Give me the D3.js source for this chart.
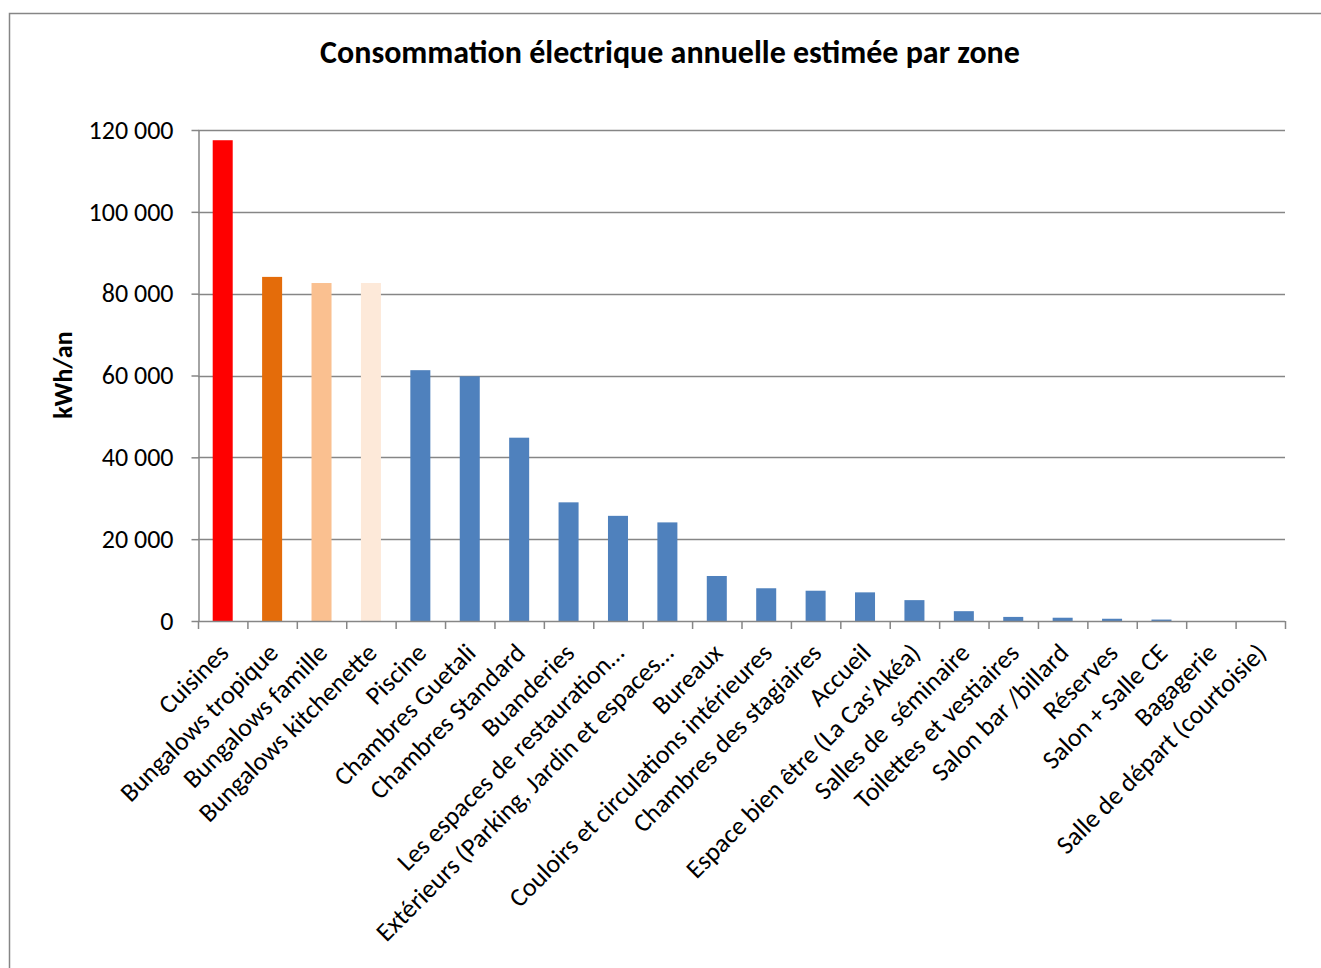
<!DOCTYPE html>
<html lang="fr">
<head>
<meta charset="utf-8">
<title>Consommation électrique annuelle estimée par zone</title>
<script src="https://cdn.jsdelivr.net/npm/d3@7"></script>
<style>
  html, body { margin: 0; padding: 0; background: #ffffff; }
  svg { display: block; }
  text { font-family: Carlito, Calibri, "Open Sans", sans-serif; fill: #000; white-space: pre; }
</style>
</head>
<body>
<div id="chart"></div>
<script>
// Zones, in decreasing order of consumption
const zones = [
  "Cuisines",
  "Bungalows tropique",
  "Bungalows famille",
  "Bungalows kitchenette",
  "Piscine",
  "Chambres Guetali",
  "Chambres Standard",
  "Buanderies",
  "Les espaces de restauration…",
  "Extérieurs (Parking, Jardin et espaces…",
  "Bureaux",
  "Couloirs et circulations intérieures",
  "Chambres des stagiaires",
  "Accueil",
  "Espace bien être (La Cas'Akéa)",
  "Salles de  séminaire",
  "Toilettes et vestiaires",
  "Salon bar /billard",
  "Réserves",
  "Salon + Salle CE",
  "Bagagerie",
  "Salle de départ (courtoisie)"
];

// Annual consumption (kWh/an)
const consommation = [
  117500, 84100, 82600, 82600, 61300, 59800, 44800, 29000, 25700, 24100,
  11000, 8000, 7400, 7000, 5100, 2400, 1000, 800, 550, 350, 0, 0
];

// Bar fill per zone
const couleurs = [
  "#ff0000", "#e46c0a", "#fac090", "#fde9d9",
  "#4f81bd", "#4f81bd", "#4f81bd", "#4f81bd", "#4f81bd", "#4f81bd",
  "#4f81bd", "#4f81bd", "#4f81bd", "#4f81bd", "#4f81bd", "#4f81bd",
  "#4f81bd", "#4f81bd", "#4f81bd", "#4f81bd", "#4f81bd", "#4f81bd"
];

const yTicks = [0, 20000, 40000, 60000, 80000, 100000, 120000];

const W = 1321, H = 968;
const plot = { left: 198, right: 1285, top: 130, bottom: 621 };
const gray = "#868686";
const labelSize = 26;

const svg = d3.select("#chart").append("svg")
  .attr("width", W).attr("height", H);

// Chart frame
svg.append("rect")
  .attr("x", 9.5).attr("y", 13.5)
  .attr("width", W + 20).attr("height", H + 20)
  .attr("fill", "#fff").attr("stroke", gray).attr("stroke-width", 1.5);

const x = d3.scaleBand()
  .domain(zones)
  .range([plot.left, plot.right])
  .paddingInner(0.595)
  .paddingOuter(0.2975);

const y = d3.scaleLinear()
  .domain([0, 120000])
  .range([plot.bottom, plot.top]);

const fr = d3.formatLocale({ decimal: ",", thousands: " ", grouping: [3], currency: ["", " €"] });
const fmt = fr.format(",d");

// Gridlines
svg.append("g")
  .selectAll("line")
  .data(yTicks.filter(d => d > 0))
  .join("line")
  .attr("x1", plot.left).attr("x2", plot.right)
  .attr("y1", d => Math.round(y(d)) + 0.5).attr("y2", d => Math.round(y(d)) + 0.5)
  .attr("stroke", gray).attr("stroke-width", 1.5);

// Bars
svg.append("g")
  .selectAll("rect")
  .data(zones.map((z, i) => ({ zone: z, value: consommation[i], color: couleurs[i] })))
  .join("rect")
  .attr("x", d => x(d.zone))
  .attr("width", x.bandwidth())
  .attr("y", d => y(d.value))
  .attr("height", d => y(0) - y(d.value))
  .attr("fill", d => d.color);

// Y axis
const yAxis = svg.append("g")
  .attr("transform", `translate(${plot.left + 0.5},0)`)
  .call(d3.axisLeft(y).tickValues(yTicks).tickFormat(fmt).tickSize(7).tickSizeOuter(0).tickPadding(18));
yAxis.select(".domain").attr("stroke", gray).attr("stroke-width", 1.5);
yAxis.selectAll(".tick line").attr("stroke", gray).attr("stroke-width", 1.5);
yAxis.selectAll(".tick text")
  .attr("font-size", labelSize)
  .style("font-family", 'Carlito, Calibri, "Open Sans", sans-serif')
  .attr("fill", "#000");

// X axis: tick marks on category boundaries
const xg = svg.append("g");
xg.append("line")
  .attr("x1", plot.left).attr("x2", plot.right)
  .attr("y1", plot.bottom + 0.5).attr("y2", plot.bottom + 0.5)
  .attr("stroke", gray).attr("stroke-width", 1.5);
const step = x.step();
xg.selectAll("line.b")
  .data(d3.range(zones.length + 1))
  .join("line")
  .attr("class", "b")
  .attr("x1", i => plot.left + i * step + 0.5)
  .attr("x2", i => plot.left + i * step + 0.5)
  .attr("y1", plot.bottom).attr("y2", plot.bottom + 8)
  .attr("stroke", gray).attr("stroke-width", 1.5);

// Category labels, rotated 45°
xg.selectAll("text.cat")
  .data(zones)
  .join("text")
  .attr("class", "cat")
  .attr("font-size", labelSize)
  .attr("text-anchor", "end")
  .attr("transform", d => {
    const cx = x(d) + x.bandwidth() / 2 + 1;
    const cy = plot.bottom + 27;
    return `translate(${cx},${cy}) rotate(-45)`;
  })
  .attr("dy", "0.35em")
  .text(d => d);

// Y axis title
svg.append("text")
  .attr("transform", `translate(72,375) rotate(-90)`)
  .attr("text-anchor", "middle")
  .attr("font-size", 26)
  .attr("font-weight", "bold")
  .text("kWh/an");

// Chart title
const title = svg.append("text")
  .attr("x", 670).attr("y", 63)
  .attr("text-anchor", "middle")
  .attr("font-size", 25)
  .attr("font-weight", "bold")
  .text("Consommation électrique annuelle estimée par zone");
const tw = title.node().getComputedTextLength();
title.attr("font-size", 25 * 700 / tw);
</script>
</body>
</html>
